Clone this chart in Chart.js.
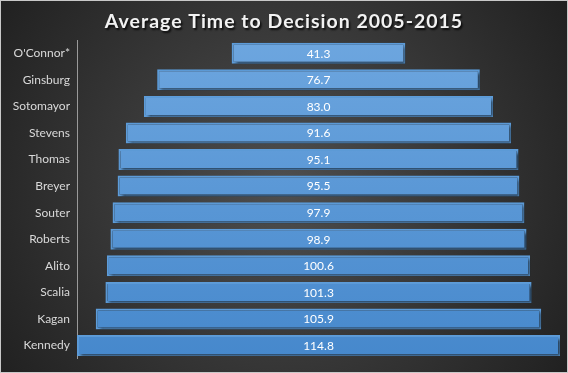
<!DOCTYPE html>
<html>
<head>
<meta charset="utf-8">
<script src="https://cdn.jsdelivr.net/npm/chart.js@4/dist/chart.umd.min.js"></script>
<style>
  html, body { margin: 0; padding: 0; background: #2a2a2a; }
</style>
</head>
<body>
<canvas id="myChart" width="568" height="373"></canvas>
<script>
const justices = ["O'Connor*", 'Ginsburg', 'Sotomayor', 'Stevens', 'Thomas', 'Breyer',
  'Souter', 'Roberts', 'Alito', 'Scalia', 'Kagan', 'Kennedy'];
const avgDays = [41.3, 76.7, 83.0, 91.6, 95.1, 95.5, 97.9, 98.9, 100.6, 101.3, 105.9, 114.8];
const chartTitle = 'Average Time to Decision 2005-2015';

// funnel look: each bar floats centred on zero
const halfMax = Math.max(...avgDays) / 2;
const floating = avgDays.map(v => [-v / 2, v / 2]);

const backdrop = {
  id: 'backdrop',
  beforeDraw(chart) {
    const { ctx, width, height } = chart;
    ctx.save();
    const g = ctx.createRadialGradient(width / 2, height / 2, 10, width / 2, height / 2, width * 0.62);
    g.addColorStop(0, '#4d4d4d');
    g.addColorStop(1, '#1f1f1f');
    ctx.fillStyle = g;
    ctx.fillRect(0, 0, width, height);
    ctx.strokeStyle = '#c8c8c8';
    ctx.lineWidth = 1;
    ctx.strokeRect(0.5, 0.5, width - 1, height - 1);

    ctx.font = 'bold 19.5px Lato';
    ctx.letterSpacing = '1px';
    ctx.fillStyle = '#f2f2f2';
    ctx.textAlign = 'center';
    ctx.textBaseline = 'middle';
    ctx.shadowColor = 'rgba(0,0,0,0.8)';
    ctx.shadowOffsetX = 1.5;
    ctx.shadowOffsetY = 1.5;
    ctx.shadowBlur = 2;
    ctx.fillText(chartTitle, width / 2, 22);
    ctx.restore();
  },
  beforeDatasetsDraw(chart) {
    const ctx = chart.ctx;
    ctx.save();
    ctx.shadowColor = 'rgba(0,0,0,0.65)';
    ctx.shadowOffsetX = 2;
    ctx.shadowOffsetY = 2;
    ctx.shadowBlur = 3;
  },
  afterDatasetsDraw(chart) {
    const ctx = chart.ctx;
    ctx.restore();
    const meta = chart.getDatasetMeta(0);
    ctx.save();
    ctx.font = '12px Lato';
    ctx.fillStyle = '#ffffff';
    ctx.textAlign = 'center';
    ctx.textBaseline = 'middle';
    meta.data.forEach((bar, i) => {
      const x = chart.scales.x.getPixelForValue(0);
      ctx.fillText(avgDays[i].toFixed(1), x, bar.y + 0.5);
    });
    ctx.restore();
  }
};

const ctx = document.getElementById('myChart');
new Chart(ctx, {
  type: 'bar',
  data: {
    labels: justices,
    datasets: [{
      data: floating,
      backgroundColor: (c) => {
        const area = c.chart.chartArea;
        if (!area) return '#5b9bd5';
        const g = c.chart.ctx.createLinearGradient(0, area.top, 0, area.bottom);
        g.addColorStop(0, '#6da6df');
        g.addColorStop(1, '#4688cc');
        return g;
      },
      borderColor: '#5d9cd9',
      borderWidth: 2,
      borderSkipped: false,
      barPercentage: 0.79,
      categoryPercentage: 1
    }]
  },
  options: {
    indexAxis: 'y',
    responsive: false,
    animation: false,
    layout: { padding: { top: 40, right: 8, bottom: 9, left: 0 } },
    plugins: {
      legend: { display: false },
      tooltip: { enabled: false }
    },
    scales: {
      x: {
        display: false,
        min: -halfMax,
        max: halfMax
      },
      y: {
        afterFit(scale) { scale.width = 77; },
        grid: { display: false, drawTicks: false },
        border: { display: true, color: '#9a9a9a', width: 1 },
        ticks: {
          color: '#d9d9d9',
          padding: 7,
          font: { family: 'Lato', size: 12 }
        }
      }
    }
  },
  plugins: [backdrop]
});
</script>
</body>
</html>
